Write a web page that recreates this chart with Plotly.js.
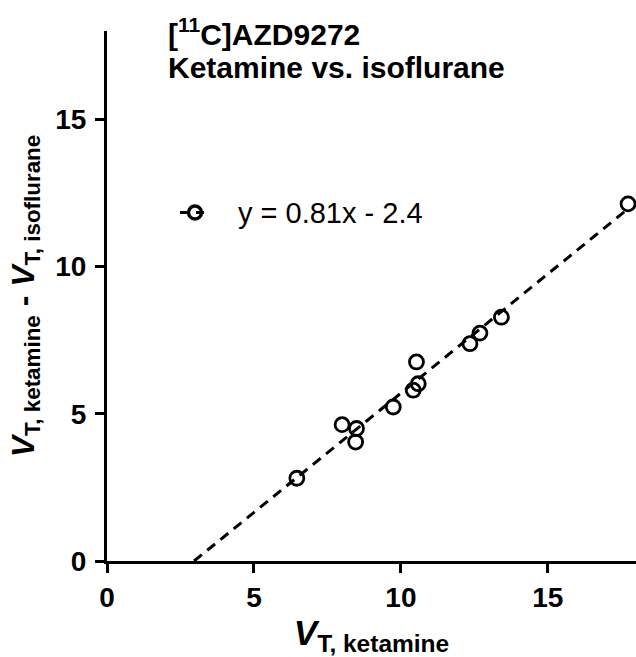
<!DOCTYPE html>
<html>
<head>
<meta charset="utf-8">
<script src="https://cdn.plot.ly/plotly-3.0.1.min.js"></script>
<style>html,body{margin:0;padding:0;background:#fff;}#chart{width:636px;height:657px;}</style>
</head>
<body>
<div id="chart"></div>
<script>
// Data
const vtKetamine = [6.46, 8.00, 8.49, 8.46, 9.74, 10.42, 10.59, 10.53, 12.35, 12.69, 13.42, 17.73];
const vtDifference = [2.81, 4.63, 4.50, 4.04, 5.23, 5.80, 6.02, 6.76, 7.38, 7.74, 8.28, 12.13];
const fitSlope = 0.81;
const fitIntercept = -2.4;
const fitLabel = "y = 0.81x - 2.4";
const titleLine1 = "[<sup>11</sup>C]AZD9272";
const titleLine2 = "Ketamine vs. isoflurane";
const tickValues = [0, 5, 10, 15];

const fitX = [-fitIntercept / fitSlope, Math.max(...vtKetamine)];
const fitY = fitX.map(x => fitSlope * x + fitIntercept);

const FONT = "Liberation Sans, Arial, sans-serif";

const traces = [
  {
    x: fitX, y: fitY, mode: 'lines', type: 'scatter',
    line: {color: '#000', width: 3, dash: '10px,7px'},
    showlegend: false, hoverinfo: 'skip', cliponaxis: false
  },
  {
    x: vtKetamine, y: vtDifference, mode: 'markers', type: 'scatter',
    marker: {symbol: 'circle-open', size: 14, color: '#000', line: {color: '#000', width: 2.8}},
    showlegend: false, cliponaxis: false
  },
  {
    x: [null], y: [null], mode: 'lines+markers', type: 'scatter',
    name: ' ',
    line: {color: '#000', width: 3, dash: '8px,8px'},
    marker: {symbol: 'circle-open', size: 13, color: '#000', line: {color: '#000', width: 3.4}},
    showlegend: true
  }
];

const axisCommon = {
  range: [0, 18],
  tickvals: tickValues,
  ticktext: tickValues.map(String),
  showline: true, linecolor: '#000', linewidth: 3,
  ticks: 'outside', ticklen: 9, tickwidth: 3, tickcolor: '#000',
  showgrid: false, zeroline: false,
  tickfont: {family: FONT, size: 28, color: '#000', weight: 700},
  fixedrange: true
};

const px2x = p => (p - 107) / 529;
const px2y = p => (561 - p) / 530;

const layout = {
  width: 636, height: 657,
  margin: {l: 107, r: 0, t: 31, b: 96},
  paper_bgcolor: '#fff', plot_bgcolor: '#fff',
  font: {family: FONT, color: '#000'},
  xaxis: Object.assign({}, axisCommon, {
    title: {text: '<b><i>V</i><sub>T, ketamine</sub></b>', font: {family: FONT, size: 35, color: '#000'}, standoff: 2}
  }),
  yaxis: Object.assign({}, axisCommon, {
    ticklabelstandoff: 3,
    title: {text: '<b><i>V</i><sub>T, ketamine</sub> - <i>V</i><sub>T, isoflurane</sub></b>', font: {family: FONT, size: 32, color: '#000'}, standoff: 12}
  }),
  showlegend: true,
  legend: {
    x: px2x(175), y: px2y(213), xanchor: 'left', yanchor: 'middle',
    bgcolor: 'rgba(0,0,0,0)',
    font: {family: FONT, size: 27, color: '#000'},
    itemwidth: 30
  },
  annotations: [
    {
      xref: 'paper', yref: 'paper', x: px2x(166), y: px2y(32), xanchor: 'left', yanchor: 'middle',
      align: 'left', showarrow: false,
      text: '<b>' + titleLine1 + '</b>',
      font: {family: FONT, size: 30, color: '#000'}
    },
    {
      xref: 'paper', yref: 'paper', x: px2x(166), y: px2y(67), xanchor: 'left', yanchor: 'middle',
      align: 'left', showarrow: false,
      text: '<b>' + titleLine2 + '</b>',
      font: {family: FONT, size: 30, color: '#000'}
    },
    {
      xref: 'paper', yref: 'paper', x: px2x(236), y: px2y(213), xanchor: 'left', yanchor: 'middle',
      align: 'left', showarrow: false,
      text: fitLabel,
      font: {family: FONT, size: 29, color: '#000'}
    }
  ]
};

Plotly.newPlot('chart', traces, layout, {displayModeBar: false, staticPlot: true});
</script>
</body>
</html>
